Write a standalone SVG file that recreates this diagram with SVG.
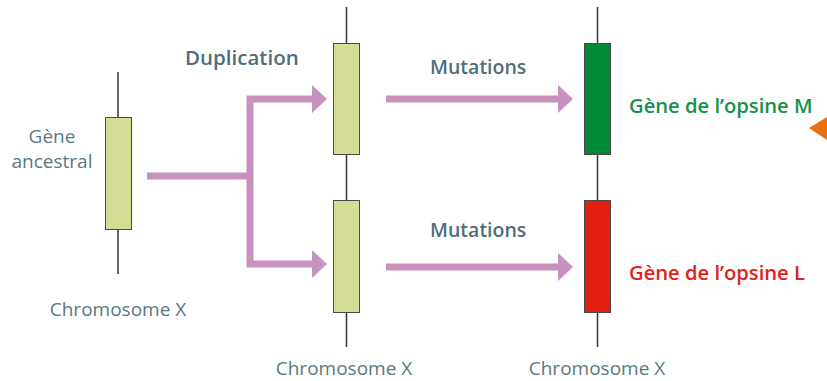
<svg xmlns="http://www.w3.org/2000/svg" width="827" height="381" viewBox="0 0 827 381">
<defs>
<style>
.lbl{font-family:"Open Sans","Liberation Sans",sans-serif;font-size:19px;fill:#5a7883}
.bold{font-family:"Open Sans","Liberation Sans",sans-serif;font-size:19.5px;font-weight:600;fill:#4f6d7a}
.chr{stroke:#333;stroke-width:1.5}
.gene{stroke:#4a4a4a;stroke-width:1}
.pale{fill:#d4dc96}
.conn{fill:none;stroke:#c792bd;stroke-width:7}
.head{fill:#c792bd}
</style>
</defs>
<rect width="827" height="381" fill="#ffffff"/>
<g id="connectors">
<path class="conn" d="M147,176 H250 M250,99 V264 M246.5,99 H313 M246.5,264 H313"/>
<polygon class="head" points="312,85 327,99 312,113"/>
<polygon class="head" points="312,250 327,264 312,278"/>
<path class="conn" d="M386,99 H559 M386,267 H559"/>
<polygon class="head" points="558,85 573,99 558,113"/>
<polygon class="head" points="558,253 573,267 558,281"/>
</g>
<g id="ancestral">
<line class="chr" x1="118" y1="72" x2="118" y2="274"/>
<rect class="gene pale" x="105.5" y="117.5" width="26" height="112"/>
<text class="lbl" x="52" y="143" text-anchor="middle">Gène</text>
<text class="lbl" x="52" y="168" text-anchor="middle">ancestral</text>
<text class="lbl" x="118" y="316" text-anchor="middle">Chromosome X</text>
</g>
<g id="duplicated">
<line class="chr" x1="346.5" y1="7" x2="346.5" y2="347"/>
<rect class="gene pale" x="333.5" y="43.5" width="26" height="111"/>
<rect class="gene pale" x="333.5" y="200.5" width="26" height="112"/>
<text class="lbl" x="344" y="375" text-anchor="middle">Chromosome X</text>
</g>
<g id="opsins">
<line class="chr" x1="597.5" y1="7" x2="597.5" y2="347"/>
<rect class="gene" x="584.5" y="43.5" width="26" height="111" fill="#008a36"/>
<rect class="gene" x="584.5" y="200.5" width="26" height="112" fill="#e3200f"/>
<text class="lbl" x="597" y="375" text-anchor="middle">Chromosome X</text>
</g>
<g id="labels">
<text class="bold" x="185" y="65" style="font-size:20.5px">Duplication</text>
<text class="bold" x="430" y="74">Mutations</text>
<text class="bold" x="430" y="237">Mutations</text>
<text class="bold" x="629" y="113" style="fill:#14914a;font-size:20.2px">Gène de l’opsine M</text>
<text class="bold" x="629" y="280" style="fill:#e0231a;font-size:20.2px">Gène de l’opsine L</text>
</g>
<polygon id="pointer" points="809,128 827,117 827,140" fill="#e8700f"/>
</svg>
